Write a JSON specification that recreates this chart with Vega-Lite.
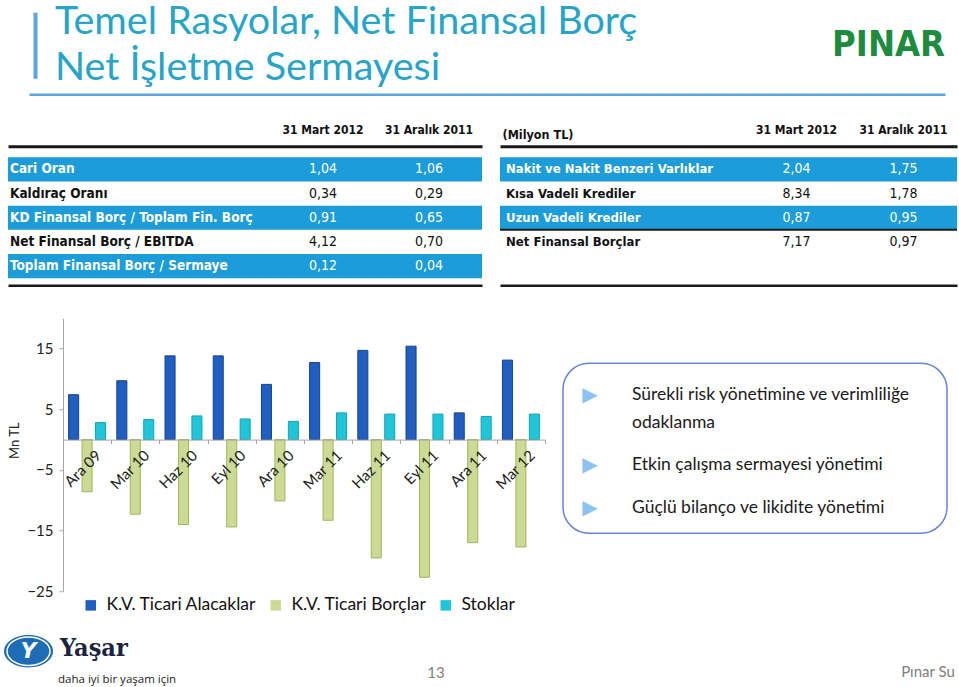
{
 "$schema": "https://vega.github.io/schema/vega-lite/v6.json",
 "autosize": {"type": "pad"},
 "padding": {"left": 4, "top": 2.25, "right": 0, "bottom": 0},
 "background": "white",
 "bounds": "flush",
 "spacing": 0,
 "config": {"view": {"stroke": null}, "font": "Lato"},
 "vconcat": [
  {
   "bounds": "flush",
   "spacing": 18,
   "hconcat": [
    {"width": 3, "height": 66, "data": {"values": [{}]}, "mark": {"type": "rule", "opacity": 0}, "encoding": {}},
    {
     "width": 916, "height": 66,
     "data": {"values": [
      {"Bolum": "baslik", "Satir": "1", "Metin": "Temel Rasyolar, Net Finansal Borç"},
      {"Bolum": "baslik", "Satir": "2", "Metin": "Net İşletme Sermayesi"},
      {"Bolum": "logo", "Satir": "logo", "Metin": "PINAR"}
     ]},
     "layer": [
      {
       "transform": [{"filter": "datum.Bolum == 'baslik'"}],
       "mark": {"type": "text", "align": "left", "baseline": "middle", "fontSize": 39.5, "color": "#27A4C8", "font": "Lato"},
       "encoding": {
        "x": {"field": "Bolum", "type": "nominal", "bandPosition": 0,
              "scale": {"type": "band", "domain": ["baslik", "logo"], "paddingInner": 0, "paddingOuter": 0.0292, "align": 1},
              "axis": {"orient": "bottom", "offset": 16, "domainColor": "#5CA4E6", "domainWidth": 2.5, "labels": false, "ticks": false, "title": null}},
        "y": {"field": "Satir", "type": "nominal",
              "scale": {"type": "point", "domain": ["1", "logo", "2"], "padding": 0.435},
              "axis": {"orient": "left", "offset": -6, "domainColor": "#5CA4E6", "domainWidth": 4, "labels": false, "ticks": false, "title": null}},
        "text": {"field": "Metin"}
       }
      },
      {
       "transform": [{"filter": "datum.Bolum == 'logo'"}],
       "mark": {"type": "text", "align": "right", "baseline": "middle", "fontSize": 36, "fontWeight": "bold", "color": "#1E8C3F", "font": "DejaVu Sans Condensed"},
       "encoding": {
        "x": {"field": "Bolum", "type": "nominal", "bandPosition": 1,
              "scale": {"type": "band", "domain": ["baslik", "logo"], "paddingInner": 0, "paddingOuter": 0.0292, "align": 1}},
        "y": {"field": "Satir", "type": "nominal",
              "scale": {"type": "point", "domain": ["1", "logo", "2"], "padding": 0.435}},
        "text": {"field": "Metin"}
       }
      }
     ]
    }
   ]
  },
  {"width": 10, "height": 145, "data": {"values": [{}]}, "mark": {"type": "rule", "opacity": 0}, "encoding": {}},
  {
   "bounds": "flush",
   "spacing": 18,
   "hconcat": [
    {
     "width": 474, "height": 121,
     "data": {"values": [
      {"Kalem": "Cari Oran", "31 Mart 2012": "1,04", "31 Aralık 2011": "1,06"},
      {"Kalem": "Kaldıraç Oranı", "31 Mart 2012": "0,34", "31 Aralık 2011": "0,29"},
      {"Kalem": "KD Finansal Borç / Toplam Fin. Borç", "31 Mart 2012": "0,91", "31 Aralık 2011": "0,65"},
      {"Kalem": "Net Finansal Borç / EBITDA", "31 Mart 2012": "4,12", "31 Aralık 2011": "0,70"},
      {"Kalem": "Toplam Finansal Borç / Sermaye", "31 Mart 2012": "0,12", "31 Aralık 2011": "0,04"}
     ]},
     "layer": [
      {
       "transform": [{"filter": "indexof(['Cari Oran','KD Finansal Borç / Toplam Fin. Borç','Toplam Finansal Borç / Sermaye'], datum.Kalem) >= 0"}],
       "mark": {"type": "rect", "color": "#1C9CD8"},
       "encoding": {
        "y": {"field": "Kalem", "type": "nominal", "scale": {"type": "band", "domain": ["Cari Oran", "Kaldıraç Oranı", "KD Finansal Borç / Toplam Fin. Borç", "Net Finansal Borç / EBITDA", "Toplam Finansal Borç / Sermaye"], "paddingInner": 0, "paddingOuter": 0}, "axis": null}
       }
      },
      {
       "mark": {"type": "text", "align": "left", "baseline": "middle", "dx": 2, "fontSize": 13.5, "fontWeight": "bold", "font": "DejaVu Sans Condensed, sans-serif"},
       "encoding": {
        "x": {"datum": "Kalem", "type": "nominal", "bandPosition": 0, "scale": {"type": "band", "paddingInner": 0, "paddingOuter": 0},
              "axis": {"orient": "bottom", "offset": 7, "domainColor": "#1a1a1a", "domainWidth": 2.5, "labels": false, "ticks": false, "title": null}},
        "y": {"field": "Kalem", "type": "nominal", "scale": {"type": "band", "domain": ["Cari Oran", "Kaldıraç Oranı", "KD Finansal Borç / Toplam Fin. Borç", "Net Finansal Borç / EBITDA", "Toplam Finansal Borç / Sermaye"], "paddingInner": 0, "paddingOuter": 0}, "axis": null},
        "text": {"field": "Kalem"},
        "color": {"condition": {"test": "indexof(['Cari Oran','KD Finansal Borç / Toplam Fin. Borç','Toplam Finansal Borç / Sermaye'], datum.Kalem) >= 0", "value": "white"}, "value": "#111111"}
       }
      },
      {
       "transform": [{"fold": ["31 Mart 2012", "31 Aralık 2011"], "as": ["Donem", "Deger"]}],
       "mark": {"type": "text", "align": "center", "baseline": "middle", "fontSize": 14, "font": "DejaVu Sans Condensed, sans-serif"},
       "encoding": {
        "x": {"field": "Donem", "type": "nominal",
              "scale": {"type": "band", "domain": ["", "31 Mart 2012", "31 Aralık 2011"], "paddingInner": 0, "paddingOuter": 0.7358, "align": 1},
              "axis": {"orient": "top", "offset": 11, "domainColor": "#1a1a1a", "domainWidth": 3, "ticks": false, "tickSize": 0, "labelAngle": 0, "labelPadding": 10, "labelFont": "DejaVu Sans Condensed, sans-serif", "labelFontSize": 12, "labelFontWeight": "bold", "labelColor": "#111111", "title": null}},
        "y": {"field": "Kalem", "type": "nominal", "scale": {"type": "band", "domain": ["Cari Oran", "Kaldıraç Oranı", "KD Finansal Borç / Toplam Fin. Borç", "Net Finansal Borç / EBITDA", "Toplam Finansal Borç / Sermaye"], "paddingInner": 0, "paddingOuter": 0}, "axis": null},
        "text": {"field": "Deger"},
        "color": {"condition": {"test": "indexof(['Cari Oran','KD Finansal Borç / Toplam Fin. Borç','Toplam Finansal Borç / Sermaye'], datum.Kalem) >= 0", "value": "white"}, "value": "#111111"}
       }
      }
     ],
     "resolve": {"scale": {"x": "independent"}, "axis": {"x": "independent"}}
    },
    {
     "width": 457, "height": 121,
     "data": {"values": [
      {"Kalem": "Nakit ve Nakit Benzeri Varlıklar", "31 Mart 2012": "2,04", "31 Aralık 2011": "1,75"},
      {"Kalem": "Kısa Vadeli Krediler", "31 Mart 2012": "8,34", "31 Aralık 2011": "1,78"},
      {"Kalem": "Uzun Vadeli Krediler", "31 Mart 2012": "0,87", "31 Aralık 2011": "0,95"},
      {"Kalem": "Net Finansal Borçlar", "31 Mart 2012": "7,17", "31 Aralık 2011": "0,97"}
     ]},
     "layer": [
      {
       "transform": [{"filter": "indexof(['Nakit ve Nakit Benzeri Varlıklar','Uzun Vadeli Krediler'], datum.Kalem) >= 0"}],
       "mark": {"type": "rect", "color": "#1C9CD8"},
       "encoding": {
        "y": {"field": "Kalem", "type": "nominal", "scale": {"type": "band", "domain": ["Nakit ve Nakit Benzeri Varlıklar", "Kısa Vadeli Krediler", "Uzun Vadeli Krediler", "Net Finansal Borçlar", "-"], "paddingInner": 0, "paddingOuter": 0}, "axis": null}
       }
      },
      {
       "transform": [{"filter": "datum.Kalem == 'Net Finansal Borçlar'"}],
       "mark": {"type": "rule", "color": "#1a1a1a", "strokeWidth": 2},
       "encoding": {
        "y": {"field": "Kalem", "type": "nominal", "bandPosition": 0, "scale": {"type": "band", "domain": ["Nakit ve Nakit Benzeri Varlıklar", "Kısa Vadeli Krediler", "Uzun Vadeli Krediler", "Net Finansal Borçlar", "-"], "paddingInner": 0, "paddingOuter": 0}, "axis": null}
       }
      },
      {
       "mark": {"type": "text", "align": "left", "baseline": "middle", "dx": 6, "fontSize": 13, "fontWeight": "bold", "font": "DejaVu Sans Condensed, sans-serif"},
       "encoding": {
        "x": {"datum": "Kalem", "type": "nominal", "bandPosition": 0, "scale": {"type": "band", "paddingInner": 0, "paddingOuter": 0},
              "axis": {"orient": "bottom", "offset": 7, "domainColor": "#1a1a1a", "domainWidth": 2.5, "labels": false, "ticks": false, "title": null}},
        "y": {"field": "Kalem", "type": "nominal", "scale": {"type": "band", "domain": ["Nakit ve Nakit Benzeri Varlıklar", "Kısa Vadeli Krediler", "Uzun Vadeli Krediler", "Net Finansal Borçlar", "-"], "paddingInner": 0, "paddingOuter": 0}, "axis": null},
        "text": {"field": "Kalem"},
        "color": {"condition": {"test": "indexof(['Nakit ve Nakit Benzeri Varlıklar','Uzun Vadeli Krediler'], datum.Kalem) >= 0", "value": "white"}, "value": "#111111"}
       }
      },
      {
       "transform": [{"fold": ["31 Mart 2012", "31 Aralık 2011"], "as": ["Donem", "Deger"]}],
       "mark": {"type": "text", "align": "center", "baseline": "middle", "fontSize": 14, "font": "DejaVu Sans Condensed, sans-serif"},
       "encoding": {
        "x": {"field": "Donem", "type": "nominal",
              "scale": {"type": "band", "domain": ["", "31 Mart 2012", "31 Aralık 2011"], "paddingInner": 0, "paddingOuter": 0.6355, "align": 1},
              "axis": {"orient": "top", "offset": 11, "domainColor": "#1a1a1a", "domainWidth": 3, "ticks": false, "tickSize": 0, "labelAngle": 0, "labelPadding": 10, "labelFont": "DejaVu Sans Condensed, sans-serif", "labelFontSize": 12, "labelFontWeight": "bold", "labelColor": "#111111",
                       "title": "(Milyon TL)", "titleX": 2, "titleY": -12, "titleAlign": "left", "titleAngle": 0, "titleBaseline": "middle", "titleFont": "DejaVu Sans Condensed, sans-serif", "titleFontSize": 12.5, "titleFontWeight": "bold", "titleColor": "#111111"}},
        "y": {"field": "Kalem", "type": "nominal", "scale": {"type": "band", "domain": ["Nakit ve Nakit Benzeri Varlıklar", "Kısa Vadeli Krediler", "Uzun Vadeli Krediler", "Net Finansal Borçlar", "-"], "paddingInner": 0, "paddingOuter": 0}, "axis": null},
        "text": {"field": "Deger"},
        "color": {"condition": {"test": "indexof(['Nakit ve Nakit Benzeri Varlıklar','Uzun Vadeli Krediler'], datum.Kalem) >= 0", "value": "white"}, "value": "#111111"}
       }
      }
     ],
     "resolve": {"scale": {"x": "independent"}, "axis": {"x": "independent"}}
    }
   ]
  },
  {"width": 10, "height": 161, "data": {"values": [{}]}, "mark": {"type": "rule", "opacity": 0}, "encoding": {}},
  {
   "bounds": "flush",
   "spacing": 18,
   "hconcat": [
    {"width": 37, "height": 273, "data": {"values": [{}]}, "mark": {"type": "rule", "opacity": 0}, "encoding": {}},
    {
     "width": 482, "height": 273,
     "data": {"values": [
      {"Donem": "Ara 09", "Seri": "K.V. Ticari Alacaklar", "Deger": 7.4},
      {"Donem": "Ara 09", "Seri": "K.V. Ticari Borçlar", "Deger": -8.6},
      {"Donem": "Ara 09", "Seri": "Stoklar", "Deger": 2.8},
      {"Donem": "Mar 10", "Seri": "K.V. Ticari Alacaklar", "Deger": 9.7},
      {"Donem": "Mar 10", "Seri": "K.V. Ticari Borçlar", "Deger": -12.3},
      {"Donem": "Mar 10", "Seri": "Stoklar", "Deger": 3.3},
      {"Donem": "Haz 10", "Seri": "K.V. Ticari Alacaklar", "Deger": 13.8},
      {"Donem": "Haz 10", "Seri": "K.V. Ticari Borçlar", "Deger": -14.0},
      {"Donem": "Haz 10", "Seri": "Stoklar", "Deger": 3.9},
      {"Donem": "Eyl 10", "Seri": "K.V. Ticari Alacaklar", "Deger": 13.8},
      {"Donem": "Eyl 10", "Seri": "K.V. Ticari Borçlar", "Deger": -14.4},
      {"Donem": "Eyl 10", "Seri": "Stoklar", "Deger": 3.4},
      {"Donem": "Ara 10", "Seri": "K.V. Ticari Alacaklar", "Deger": 9.1},
      {"Donem": "Ara 10", "Seri": "K.V. Ticari Borçlar", "Deger": -10.1},
      {"Donem": "Ara 10", "Seri": "Stoklar", "Deger": 3.0},
      {"Donem": "Mar 11", "Seri": "K.V. Ticari Alacaklar", "Deger": 12.7},
      {"Donem": "Mar 11", "Seri": "K.V. Ticari Borçlar", "Deger": -13.3},
      {"Donem": "Mar 11", "Seri": "Stoklar", "Deger": 4.4},
      {"Donem": "Haz 11", "Seri": "K.V. Ticari Alacaklar", "Deger": 14.7},
      {"Donem": "Haz 11", "Seri": "K.V. Ticari Borçlar", "Deger": -19.5},
      {"Donem": "Haz 11", "Seri": "Stoklar", "Deger": 4.2},
      {"Donem": "Eyl 11", "Seri": "K.V. Ticari Alacaklar", "Deger": 15.4},
      {"Donem": "Eyl 11", "Seri": "K.V. Ticari Borçlar", "Deger": -22.7},
      {"Donem": "Eyl 11", "Seri": "Stoklar", "Deger": 4.2},
      {"Donem": "Ara 11", "Seri": "K.V. Ticari Alacaklar", "Deger": 4.4},
      {"Donem": "Ara 11", "Seri": "K.V. Ticari Borçlar", "Deger": -17.0},
      {"Donem": "Ara 11", "Seri": "Stoklar", "Deger": 3.8},
      {"Donem": "Mar 12", "Seri": "K.V. Ticari Alacaklar", "Deger": 13.1},
      {"Donem": "Mar 12", "Seri": "K.V. Ticari Borçlar", "Deger": -17.7},
      {"Donem": "Mar 12", "Seri": "Stoklar", "Deger": 4.2}
     ]},
     "mark": {"type": "bar", "strokeWidth": 1},
     "encoding": {
      "x": {"field": "Donem", "type": "nominal", "sort": null, "scale": {"paddingInner": 0, "paddingOuter": 0},
            "axis": {"title": null, "zindex": 1, "offset": -151.67, "labelAngle": -45, "labelFontSize": 15, "labelColor": "#222222", "labelPadding": 4, "labelOffset": 6, "tickBand": "extent", "tickSize": 4, "tickColor": "#A6A6A6", "domainColor": "#A6A6A6", "domainWidth": 1}},
      "xOffset": {"field": "Seri", "type": "nominal", "scale": {"paddingInner": 0.254, "paddingOuter": 0.418}},
      "y": {"field": "Deger", "type": "quantitative", "scale": {"domain": [-25, 20], "nice": false},
            "axis": {"values": [-25, -15, -5, 5, 15], "grid": false, "title": "Mn TL", "titleFontWeight": "normal", "titleFontSize": 13, "titleColor": "#222222", "titleX": -49, "titleY": 122, "titleBaseline": "middle", "titleAlign": "center", "labelFontSize": 15, "labelColor": "#222222", "labelPadding": 6, "tickSize": 4, "tickColor": "#A6A6A6", "domainColor": "#A6A6A6"}},
      "color": {"field": "Seri", "type": "nominal",
                "scale": {"domain": ["K.V. Ticari Alacaklar", "K.V. Ticari Borçlar", "Stoklar"], "range": ["#1F5FC2", "#CBDB93", "#1FC6D9"]},
                "legend": {"orient": "none", "legendX": 74, "legendY": 584, "direction": "horizontal", "title": null, "symbolType": "square", "symbolSize": 110, "labelFontSize": 17.5, "labelColor": "#111111", "labelOffset": 7, "columnPadding": 10, "symbolStrokeWidth": 0}},
      "stroke": {"field": "Seri", "type": "nominal",
                 "scale": {"domain": ["K.V. Ticari Alacaklar", "K.V. Ticari Borçlar", "Stoklar"], "range": ["#16428E", "#A0B464", "#14A3B5"]},
                 "legend": null}
     }
    },
    {
     "bounds": "flush",
     "spacing": 0,
     "vconcat": [
      {"width": 384, "height": 45, "data": {"values": [{}]}, "mark": {"type": "rule", "opacity": 0}, "encoding": {}},
      {
       "width": 384, "height": 170,
       "view": {"stroke": "#6A86D4", "strokeWidth": 1.5, "cornerRadius": 26},
       "data": {"values": [
        {"Sira": 1, "Madde": "Sürekli risk yönetimine ve verimliliğe\nodaklanma"},
        {"Sira": 2, "Madde": "Etkin çalışma sermayesi yönetimi"},
        {"Sira": 3, "Madde": "Güçlü bilanço ve likidite yönetimi"}
       ]},
       "layer": [
        {
         "transform": [{"filter": "datum.Sira == 1"}],
         "mark": {"type": "text", "align": "center", "baseline": "middle", "dy": -28, "fontSize": 20, "color": "#8CC3F0", "font": "DejaVu Sans"},
         "encoding": {
          "x": {"datum": "isaret", "type": "nominal", "bandPosition": 0, "scale": {"type": "band", "paddingInner": 0, "paddingOuter": 1, "align": 0.1055}, "axis": null},
          "y": {"field": "Sira", "type": "ordinal", "scale": {"type": "point", "domain": [1, 2, 3], "padding": 1.056, "align": 0.7}, "axis": null},
          "text": {"value": "▶"}
         }
        },
        {
         "transform": [{"filter": "datum.Sira != 1"}],
         "mark": {"type": "text", "align": "center", "baseline": "middle", "fontSize": 20, "color": "#8CC3F0", "font": "DejaVu Sans"},
         "encoding": {
          "x": {"datum": "isaret", "type": "nominal", "bandPosition": 0, "scale": {"type": "band", "paddingInner": 0, "paddingOuter": 1, "align": 0.1055}, "axis": null},
          "y": {"field": "Sira", "type": "ordinal", "scale": {"type": "point", "domain": [1, 2, 3], "padding": 1.056, "align": 0.7}, "axis": null},
          "text": {"value": "▶"}
         }
        },
        {
         "transform": [{"filter": "datum.Sira == 1"}],
         "mark": {"type": "text", "align": "left", "baseline": "middle", "dy": -28, "lineBreak": "\n", "lineHeight": 28, "fontSize": 17.5, "color": "#1a1a1a", "font": "Lato"},
         "encoding": {
          "x": {"datum": "metin", "type": "nominal", "bandPosition": 0, "scale": {"type": "band", "paddingInner": 0, "paddingOuter": 1, "align": 0.2695}, "axis": null},
          "y": {"field": "Sira", "type": "ordinal", "scale": {"type": "point", "domain": [1, 2, 3], "padding": 1.056, "align": 0.7}, "axis": null},
          "text": {"field": "Madde"}
         }
        },
        {
         "transform": [{"filter": "datum.Sira != 1"}],
         "mark": {"type": "text", "align": "left", "baseline": "middle", "lineBreak": "\n", "lineHeight": 28, "fontSize": 17.5, "color": "#1a1a1a", "font": "Lato"},
         "encoding": {
          "x": {"datum": "metin", "type": "nominal", "bandPosition": 0, "scale": {"type": "band", "paddingInner": 0, "paddingOuter": 1, "align": 0.2695}, "axis": null},
          "y": {"field": "Sira", "type": "ordinal", "scale": {"type": "point", "domain": [1, 2, 3], "padding": 1.056, "align": 0.7}, "axis": null},
          "text": {"field": "Madde"}
         }
        }
       ],
       "resolve": {"scale": {"x": "independent"}}
      }
     ]
    }
   ]
  },
  {"width": 10, "height": 309, "data": {"values": [{}]}, "mark": {"type": "rule", "opacity": 0}, "encoding": {}},
  {
   "width": 951, "height": 60,
   "layer": [
    {
     "data": {"values": [{"Bolum": "logo", "Satir": "ust"}]},
     "mark": {"type": "point", "shape": "M-1,0A1,0.66,0,1,1,1,0A1,0.66,0,1,1,-1,0Z", "size": 2401, "filled": true, "color": "#1F6CB6", "opacity": 1},
     "encoding": {
      "x": {"field": "Bolum", "type": "nominal", "bandPosition": 0.0647, "scale": {"type": "band", "domain": ["logo", "sayfa", "imza"], "paddingInner": 0, "paddingOuter": 0}, "axis": null},
      "y": {"field": "Satir", "type": "nominal", "bandPosition": 0.8, "scale": {"type": "band", "domain": ["ust", "alt"], "paddingInner": 0, "paddingOuter": 0}, "axis": null}
     }
    },
    {
     "data": {"values": [{"Bolum": "logo", "Satir": "ust"}]},
     "mark": {"type": "point", "shape": "M-1,0A1,0.66,0,1,1,1,0A1,0.66,0,1,1,-1,0Z", "size": 1850, "filled": false, "stroke": "white", "strokeWidth": 1.5, "opacity": 1},
     "encoding": {
      "x": {"field": "Bolum", "type": "nominal", "bandPosition": 0.0647, "scale": {"type": "band", "domain": ["logo", "sayfa", "imza"], "paddingInner": 0, "paddingOuter": 0}, "axis": null},
      "y": {"field": "Satir", "type": "nominal", "bandPosition": 0.8, "scale": {"type": "band", "domain": ["ust", "alt"], "paddingInner": 0, "paddingOuter": 0}, "axis": null}
     }
    },
    {
     "data": {"values": [{"Bolum": "logo", "Satir": "ust", "Metin": "Y"}]},
     "mark": {"type": "text", "align": "center", "baseline": "middle", "fontSize": 22, "fontWeight": "bold", "fontStyle": "italic", "color": "white", "font": "DejaVu Sans"},
     "encoding": {
      "x": {"field": "Bolum", "type": "nominal", "bandPosition": 0.0647, "scale": {"type": "band", "domain": ["logo", "sayfa", "imza"], "paddingInner": 0, "paddingOuter": 0}, "axis": null},
      "y": {"field": "Satir", "type": "nominal", "bandPosition": 0.8, "scale": {"type": "band", "domain": ["ust", "alt"], "paddingInner": 0, "paddingOuter": 0}, "axis": null},
      "text": {"field": "Metin"}
     }
    },
    {
     "data": {"values": [{"Bolum": "logo", "Satir": "ust", "Metin": "Yaşar"}]},
     "mark": {"type": "text", "align": "left", "baseline": "middle", "fontSize": 25, "fontWeight": "bold", "color": "#1B2340", "font": "DejaVu Serif Condensed, DejaVu Serif"},
     "encoding": {
      "x": {"field": "Bolum", "type": "nominal", "bandPosition": 0.164, "scale": {"type": "band", "domain": ["logo", "sayfa", "imza"], "paddingInner": 0, "paddingOuter": 0}, "axis": null},
      "y": {"field": "Satir", "type": "nominal", "bandPosition": 0.7, "scale": {"type": "band", "domain": ["ust", "alt"], "paddingInner": 0, "paddingOuter": 0}, "axis": null},
      "text": {"field": "Metin"}
     }
    },
    {
     "data": {"values": [{"Bolum": "logo", "Satir": "alt", "Metin": "daha iyi bir yaşam için"}]},
     "mark": {"type": "text", "align": "left", "baseline": "middle", "fontSize": 11.5, "color": "#222222", "font": "Open Sans"},
     "encoding": {
      "x": {"field": "Bolum", "type": "nominal", "bandPosition": 0.158, "scale": {"type": "band", "domain": ["logo", "sayfa", "imza"], "paddingInner": 0, "paddingOuter": 0}, "axis": null},
      "y": {"field": "Satir", "type": "nominal", "bandPosition": 0.75, "scale": {"type": "band", "domain": ["ust", "alt"], "paddingInner": 0, "paddingOuter": 0}, "axis": null},
      "text": {"field": "Metin"}
     }
    },
    {
     "data": {"values": [{"Bolum": "sayfa", "Satir": "alt", "Metin": "13"}]},
     "mark": {"type": "text", "align": "center", "baseline": "middle", "fontSize": 15, "color": "#7F7F7F", "font": "Lato"},
     "encoding": {
      "x": {"field": "Bolum", "type": "nominal", "bandPosition": 0.35, "scale": {"type": "band", "domain": ["logo", "sayfa", "imza"], "paddingInner": 0, "paddingOuter": 0}, "axis": null},
      "y": {"field": "Satir", "type": "nominal", "bandPosition": 0.53, "scale": {"type": "band", "domain": ["ust", "alt"], "paddingInner": 0, "paddingOuter": 0}, "axis": null},
      "text": {"field": "Metin"}
     }
    },
    {
     "data": {"values": [{"Bolum": "imza", "Satir": "alt", "Metin": "Pınar Su"}]},
     "mark": {"type": "text", "align": "right", "baseline": "middle", "fontSize": 15, "color": "#7F7F7F", "font": "Lato"},
     "encoding": {
      "x": {"field": "Bolum", "type": "nominal", "bandPosition": 0.987, "scale": {"type": "band", "domain": ["logo", "sayfa", "imza"], "paddingInner": 0, "paddingOuter": 0}, "axis": null},
      "y": {"field": "Satir", "type": "nominal", "bandPosition": 0.5, "scale": {"type": "band", "domain": ["ust", "alt"], "paddingInner": 0, "paddingOuter": 0}, "axis": null},
      "text": {"field": "Metin"}
     }
    }
   ]
  }
 ]
}
